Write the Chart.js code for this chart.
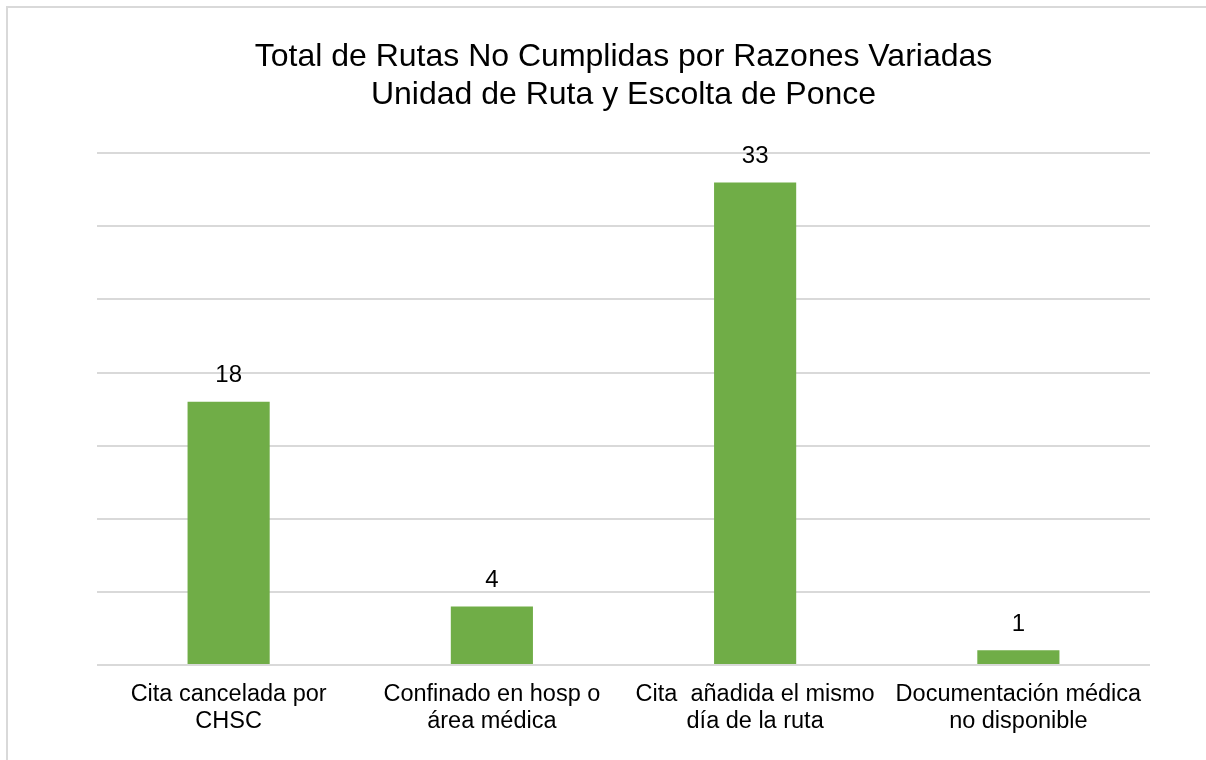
<!DOCTYPE html>
<html>
<head>
<meta charset="utf-8">
<script src="https://cdn.jsdelivr.net/npm/chart.js@4"></script>
<style>
  html, body { margin: 0; padding: 0; background: #fff; overflow: hidden; }
  #frame {
    position: absolute; left: 6px; top: 6px; width: 1220px; height: 780px;
    border: 2px solid #d9d9d9; box-sizing: border-box;
  }
  #wrap { position: absolute; left: 0; top: 0; width: 1206px; height: 760px; }
</style>
</head>
<body>
<div id="frame"></div>
<div id="wrap"><canvas id="chart"></canvas></div>
<script>
// categories and counts
const categories = [
  ["Cita cancelada por", "CHSC"],
  ["Confinado en hosp o", "área médica"],
  ["Cita  añadida el mismo", "día de la ruta"],
  ["Documentación médica", "no disponible"]
];
const totals = [18, 4, 33, 1];
const titleLines = [
  "Total de Rutas No Cumplidas por Razones Variadas",
  "Unidad de Ruta y Escolta de Ponce"
];

const FONT = '"Liberation Sans", Arial, sans-serif';

// draws the value above each bar
const valueLabels = {
  id: 'valueLabels',
  afterDatasetsDraw(chart) {
    const ctx = chart.ctx;
    ctx.save();
    ctx.font = '24px ' + FONT;
    ctx.fillStyle = '#000';
    ctx.textAlign = 'center';
    ctx.textBaseline = 'middle';
    chart.getDatasetMeta(0).data.forEach((bar, i) => {
      ctx.fillText(totals[i], bar.x, bar.y - 26);
    });
    ctx.restore();
  }
};

document.addEventListener('DOMContentLoaded', function () {
  const ctx = document.getElementById('chart').getContext('2d');
  new Chart(ctx, {
    type: 'bar',
    data: {
      labels: categories,
      datasets: [{
        data: totals,
        backgroundColor: '#70ad47',
        barPercentage: 0.312,
        categoryPercentage: 1
      }]
    },
    options: {
      responsive: true,
      maintainAspectRatio: false,
      animation: false,
      layout: { padding: { left: 97, right: 56, top: 0, bottom: 17 } },
      plugins: {
        legend: { display: false },
        tooltip: { enabled: false },
        title: {
          display: true,
          text: titleLines,
          color: '#000',
          font: { family: FONT, size: 32, weight: 'normal', lineHeight: 1.16 },
          padding: { top: 39, bottom: 40 }
        }
      },
      scales: {
        x: {
          grid: { display: false },
          border: { display: false },
          ticks: {
            color: '#000',
            padding: 8,
            maxRotation: 0,
            autoSkip: false,
            font: { family: FONT, size: 23.5, lineHeight: 1.15 }
          }
        },
        y: {
          min: 0,
          max: 35,
          ticks: { stepSize: 5, display: false },
          border: { display: false },
          grid: { color: '#d9d9d9', lineWidth: 2, drawTicks: false }
        }
      }
    },
    plugins: [valueLabels]
  });
});
</script>
</body>
</html>
